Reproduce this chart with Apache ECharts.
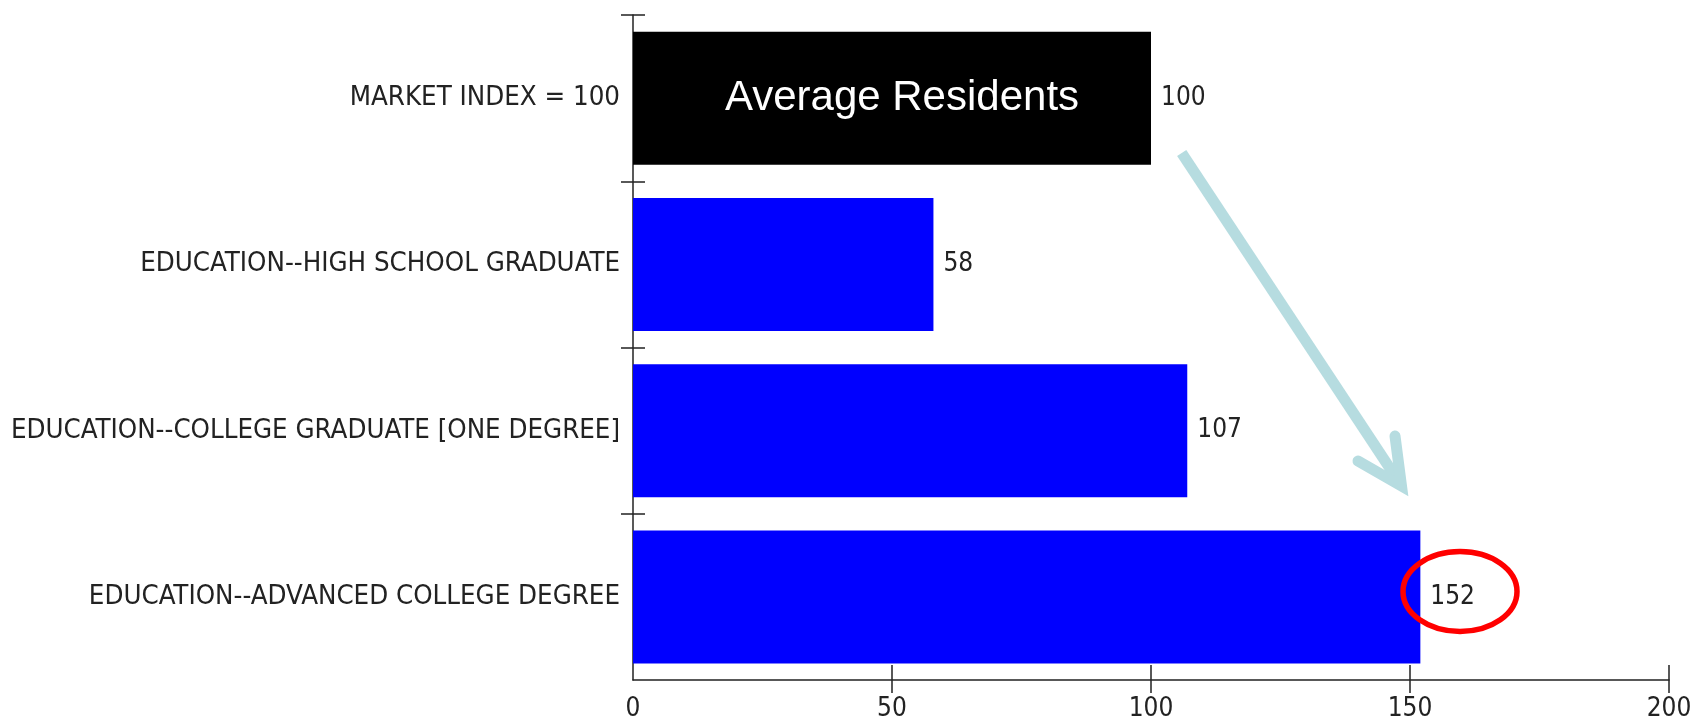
<!DOCTYPE html>
<html>
<head>
<meta charset="utf-8">
<title>Education Index</title>
<script src="https://cdn.jsdelivr.net/npm/echarts@6/dist/echarts.min.js"></script>
<style>
  html, body { margin: 0; padding: 0; background: #fff; }
  #chart { width: 1698px; height: 725px; }
</style>
</head>
<body>
<div id="chart"></div>
<script>
// Index of residents by education level (market = 100)
const categories = [
  'MARKET INDEX = 100',
  'EDUCATION--HIGH SCHOOL GRADUATE',
  'EDUCATION--COLLEGE GRADUATE [ONE DEGREE]',
  'EDUCATION--ADVANCED COLLEGE DEGREE'
];
const indexValues = [100, 58, 107, 152];
const barColors = ['#000000', '#0000ff', '#0000ff', '#0000ff'];
const xTicks = [0, 50, 100, 150, 200];
const baselineCaption = 'Average Residents';

const narrowFont = '"DejaVu Sans Condensed", "Liberation Sans Narrow", sans-serif';
const textColor = '#222';
const axisColor = '#222';

// band boundaries that get a crossing tick (all but the one at the axis corner)
const bandBoundaries = categories.map((c, i) => i);

const chart = echarts.init(document.getElementById('chart'), null, { renderer: 'canvas' });

const tickStyle = { color: axisColor, width: 1.5 };

function bandTickAxis(inside, length) {
  return {
    type: 'value',
    min: 0,
    max: categories.length,
    interval: 1,
    inverse: true,
    position: 'left',
    offset: 0,
    splitLine: { show: false },
    axisLine: { show: false, onZero: false },
    axisTick: { show: true, inside: inside, length: length, customValues: bandBoundaries, lineStyle: tickStyle },
    axisLabel: { show: false }
  };
}

const option = {
  backgroundColor: '#ffffff',
  animation: false,
  grid: { left: 633, right: 29, top: 15, bottom: 45, containLabel: false, outerBoundsMode: 'none' },
  xAxis: [
    {
      type: 'value',
      position: 'bottom',
      min: xTicks[0],
      max: xTicks[xTicks.length - 1],
      interval: 50,
      splitLine: { show: false },
      axisLine: { show: true, onZero: false, lineStyle: { color: axisColor, width: 1.5 } },
      axisTick: { show: true, length: 13, customValues: xTicks.slice(1), lineStyle: tickStyle },
      axisLabel: { margin: 16, color: textColor, fontFamily: narrowFont, fontSize: 26 }
    },
    {
      // inner half of the crossing tick marks
      type: 'value',
      position: 'bottom',
      offset: 0,
      min: xTicks[0],
      max: xTicks[xTicks.length - 1],
      interval: 50,
      splitLine: { show: false },
      axisLine: { show: false, onZero: false },
      axisTick: { show: true, inside: true, length: 15, customValues: xTicks.slice(1), lineStyle: tickStyle },
      axisLabel: { show: false }
    }
  ],
  yAxis: [
    {
      type: 'category',
      data: categories,
      inverse: true,
      position: 'left',
      axisLine: { show: true, onZero: false, lineStyle: { color: axisColor, width: 1.5 } },
      axisTick: { show: false },
      axisLabel: { margin: 13, interval: 0, color: textColor, fontFamily: narrowFont, fontSize: 27.4 }
    },
    bandTickAxis(false, 12),
    bandTickAxis(true, 12)
  ],
  series: [
    {
      type: 'bar',
      xAxisIndex: 0,
      yAxisIndex: 0,
      barWidth: '80%',
      data: indexValues.map((v, i) => ({ value: v, itemStyle: { color: barColors[i] } })),
      label: {
        show: true,
        position: 'right',
        distance: 10,
        color: textColor,
        fontFamily: narrowFont,
        fontSize: 26
      },
      z: 2
    },
    {
      // caption written inside the market baseline bar
      type: 'bar',
      xAxisIndex: 0,
      yAxisIndex: 0,
      barWidth: '80%',
      barGap: '-100%',
      data: indexValues.map((v, i) => (i === 0 ? v : '-')),
      itemStyle: { color: 'rgba(0,0,0,0)' },
      label: {
        show: true,
        position: 'inside',
        offset: [10, 0],
        formatter: baselineCaption,
        color: '#ffffff',
        fontFamily: '"Liberation Sans", Arial, sans-serif',
        fontSize: 42
      },
      silent: true,
      z: 3
    }
  ],
  graphic: [
    {
      // pointer from the baseline towards the advanced-degree bar
      type: 'polyline',
      shape: { points: [[1181.7, 153], [1397, 479]] },
      style: { stroke: '#b6dce0', lineWidth: 11, lineCap: 'butt', fill: null },
      z: 10
    },
    {
      type: 'polyline',
      shape: { points: [[1395, 436], [1401.5, 486], [1358, 461]] },
      style: { stroke: '#b6dce0', lineWidth: 11, lineCap: 'round', lineJoin: 'miter', fill: null },
      z: 10
    },
    {
      // highlight ring round the 152 value
      type: 'ellipse',
      shape: { cx: 1460, cy: 591.5, rx: 57, ry: 40 },
      style: { stroke: '#ff0000', lineWidth: 5.5, fill: null },
      z: 10
    }
  ]
};

chart.setOption(option);
</script>
</body>
</html>
